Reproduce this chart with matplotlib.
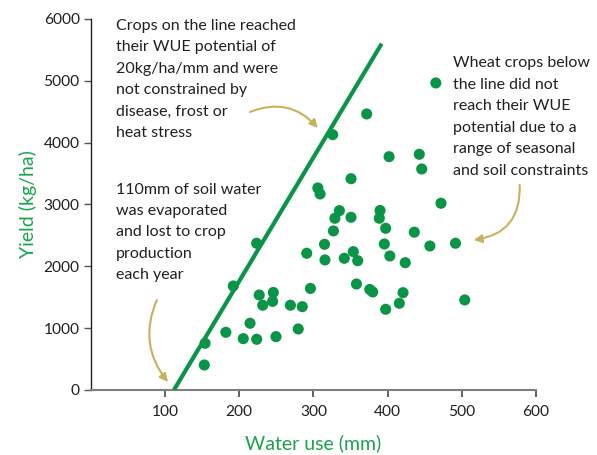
import matplotlib
matplotlib.use("Agg")
import matplotlib.pyplot as plt
import numpy as np

plt.rcParams['font.family'] = ['Lato', 'DejaVu Sans']

# Data
water_use = [153, 154, 182, 205.5, 223.6, 214.6, 249.6, 279.6, 192, 223.5,
             227, 246, 231.7, 245, 269, 285, 296, 291, 306, 309,
             315, 315.6, 327, 329, 335, 350.7, 350.7, 326, 371.8, 341.6,
             353.8, 359.7, 358, 376, 380, 389.8, 388.8, 397.4, 395.6, 403,
             402, 397.4, 415.8, 420.8, 423.8, 436, 442.7, 446, 457, 472,
             491.5, 504]
yield_kg = [404, 755, 933, 830, 820, 1079, 862, 987, 1682, 2373,
            1536, 1577, 1371, 1433, 1371, 1347, 1642, 2211, 3267, 3170,
            2356, 2103, 2572, 2777, 2900, 2793, 3417, 4129, 4464, 2130,
            2237, 2091, 1714, 1625, 1585, 2903, 2777, 2615, 2361, 2167,
            3773, 1305, 1402, 1574, 2059, 2552, 3812, 3574, 2329, 3020,
            2373, 1456]

line_x = [112, 392]
line_y = [0, 5600]

x_ticks = [100, 200, 300, 400, 500, 600]
y_ticks = [0, 1000, 2000, 3000, 4000, 5000, 6000]

GREEN = '#0a9447'
LABEL_GREEN = '#1aa24c'
TEXT = '#231f20'
GOLD = '#c8b15c'

fig = plt.figure(figsize=(5.97, 4.55), dpi=100)
ax = fig.add_axes([0.1521, 0.1429, 0.7457, 0.8154])

ax.plot(line_x, line_y, color=GREEN, lw=3.0, solid_capstyle='butt', zorder=3)
ax.scatter(water_use, yield_kg, s=64, color=GREEN, edgecolors='none', zorder=4)

ax.set_xlim(0, 600)
ax.set_ylim(0, 6000)
ax.set_xticks(x_ticks)
ax.set_yticks(y_ticks)
ax.spines['top'].set_visible(False)
ax.spines['right'].set_visible(False)
ax.spines['left'].set_color('#231f20')
ax.spines['left'].set_linewidth(1.0)
ax.spines['bottom'].set_color('#808080')
ax.spines['bottom'].set_linewidth(1.5)
ax.tick_params(axis='y', length=5, width=1, color='#555555', labelsize=11.2,
               labelcolor=TEXT, pad=3)
ax.tick_params(axis='x', length=5, width=1.2, color='#444444', labelsize=11.2,
               labelcolor=TEXT, pad=6)

ax.set_xlabel('Water use (mm)', color=LABEL_GREEN, fontsize=14, labelpad=11)
ax.set_ylabel('Yield (kg/ha)', color=LABEL_GREEN, fontsize=14, labelpad=5)

txt_kw = dict(fontsize=11.5, color=TEXT, ha='left', va='top', linespacing=1.68,
              clip_on=False)
ax.text(34, 6000, 'Crops on the line reached\ntheir WUE potential of\n'
        '20kg/ha/mm and were\nnot constrained by\ndisease, frost or\nheat stress',
        **txt_kw)
ax.text(34, 3355, '110mm of soil water\nwas evaporated\nand lost to crop\n'
        'production\neach year', **txt_kw)
ax.text(488, 5395, 'Wheat crops below\nthe line did not\nreach their WUE\n'
        'potential due to a\nrange of seasonal\nand soil constraints', **txt_kw)
ax.scatter([465], [4965], s=64, color=GREEN, edgecolors='none', clip_on=False)

arrow_kw = dict(arrowstyle='-|>', color=GOLD, lw=1.5, mutation_scale=12,
                shrinkA=0, shrinkB=0)
ax.annotate('', xy=(306, 4237), xytext=(214.6, 4496),
            arrowprops=dict(connectionstyle='arc3,rad=-0.35', **arrow_kw))
ax.annotate('', xy=(104, 129), xytext=(89, 1456),
            arrowprops=dict(connectionstyle='arc3,rad=0.3', **arrow_kw))
ax.annotate('', xy=(516, 2426), xytext=(578, 3315), annotation_clip=False,
            arrowprops=dict(connectionstyle='arc3,rad=-0.45', **arrow_kw))

fig.savefig('out.png', dpi=100)
